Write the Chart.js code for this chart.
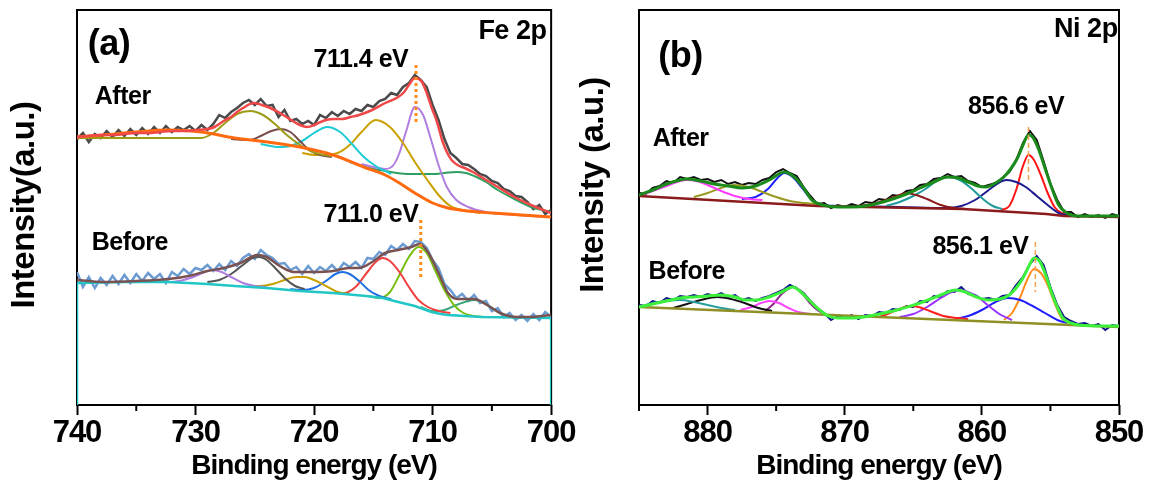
<!DOCTYPE html>
<html>
<head>
<meta charset="utf-8">
<script src="https://cdn.jsdelivr.net/npm/chart.js@4.4.0/dist/chart.umd.min.js"></script>
<style>
  html, body { margin: 0; padding: 0; background: #fff; }
  #wrap { position: relative; width: 1154px; height: 488px; }
  canvas { position: absolute; top: 0; }
</style>
</head>
<body>
<div id="wrap">
  <canvas id="fe" width="577" height="488" style="left:0"></canvas>
  <canvas id="ni" width="577" height="488" style="left:577px"></canvas>
</div>
<script>
// ---- Fe 2p (a): energies of the raw scans (eV) ----
const feE = [740,739.5,739,738.5,738,737.5,737,736.5,736,735.5,735,734.5,734,733.5,733,732.5,732,731.5,731,730.5,
  730,729.5,729,728.5,728,727.5,727,726.5,726,725.5,725,724.5,724,723.5,723,722.5,722,721.5,721,720.5,
  720,719.5,719,718.5,718,717.5,717,716.5,716,715.5,715,714.5,714,713.5,713,712.5,712,711.5,711,710.5,
  710,709.5,709,708.5,708,707.5,707,706.5,706,705.5,705,704.5,704,703.5,703,702.5,702,701.5,701,700.5,700];
const feAfterRaw = [266,272,263,271,267,274,268,275,269,276,270,277,271,278,272,279,273,278,275,279,
  274,280,275,281,290,287,293,297,302,305,300,306,299,300,288,295,284,286,281,284,
  280,290,287,293,289,294,291,296,294,300,298,304,306,312,310,318,322,330,325,318,
  300,285,266,252,247,241,240,236,231,229,224,222,216,214,209,208,203,196,200,191,195];
const feBeforeRaw = [133,118,128,117,127,120,129,121,130,122,131,124,132,126,131,122,133,129,136,131,
  137,135,140,134,141,135,144,139,147,151,146,155,150,147,141,142,135,138,131,139,
  132,138,134,140,134,142,138,143,137,147,146,153,150,159,155,161,156,164,163,157,
  145,137,121,115,107,111,104,110,102,104,94,97,88,92,85,90,84,91,85,93,88];

// fitted curves, [energy, intensity]
const feAfterFit = [[740,268],[739,269],[738,270],[737,270],[736,271],[735,272],[734,272],[733,273],[732,274],[731,274],
  [730,275],[729,276],[728.4,278],[727.5,285],[727,288],[726.5,293],[726,297],[725.1,302],[724.4,300],[723.7,297],
  [722.6,290],[721.8,284],[721.2,280],[720.6,278],[719.8,281],[719,285],[718.3,286],[717.6,286],[716.9,288],[716.2,290],
  [715.1,295],[714,302],[712.9,308],[712.4,313],[712,320],[711.5,327],[710.9,323],[710.5,312],[710.1,298],[709.6,282],
  [709.2,265],[708.8,253],[708.4,245],[707.9,240],[707.3,237],[706.6,233],[705.9,228],[704.5,218],[703.1,208],[701.7,200],[700,192]];
const feAfterBg = [[740,268],[737.8,270],[735,273],[732.3,275],[729.5,273],[726.7,267],[723.9,263],[721.2,258],[718.4,250],
  [715.6,237],[714,230],[712.8,222],[711.5,212],[710,202],[708.7,197],[707,194],[705,192],[702.5,190],[700,188]];
const feAfterOlive = [[740,267],[736,267],[732,267],[729.5,267],[728.5,272],[727.5,282],[726.5,291],[725.4,294],[724.3,290],
  [723.3,281],[722.3,270],[721.3,261],[720.3,254],[719.5,251],[718.5,249]];
const feAfterBrown = [[727,266],[725.5,265],[724.5,269],[723.6,274],[722.8,276],[722,273],[721.2,264],[720.4,255],[719.5,250],[718.5,248]];
const feAfterCyan = [[724.5,261],[723,258],[722,259],[721,264],[720,272],[718.9,278],[717.8,273],[716.8,261],[715.8,248],[714.8,239],[713.5,231]];
const feAfterGold = [[721,252],[720,250],[719,250],[718,252],[717,260],[716,273],[714.8,285],[713.6,278],[712.5,262],[711.5,243],
  [710.5,226],[709.5,210],[708.5,199],[707.5,195],[706,192]];
const feAfterPurple = [[716,241],[715,238],[714,236],[713.3,240],[712.8,252],[712.2,275],[711.5,298],[710.8,290],[710.2,268],
  [709.5,240],[708.8,218],[708,205],[707,198],[705.5,193],[703,190],[700,188]];
const feAfterGreen = [[717,243],[716,239],[715,236],[714,234],[713,232],[712,231],[710,231],[709,232],[708,233],[707.2,232],
  [706.3,228],[705.5,223],[704.5,215],[703.1,206],[701.7,198],[700,193]];

const feBeforeFit = [[740,125],[737.8,123],[735,124],[732.3,126],[730.6,129],[729,134],[727.6,137],[726.2,142],[724.8,150],[724,148],
  [722.9,139],[721.7,133],[720.1,133],[718.4,134],[717.1,137],[716.2,137],[715.1,143],[714,152],[712.9,155],[711.8,158],
  [711.1,161],[710.4,153],[709.5,132],[708.7,112],[707.9,106],[706.5,106],[705.4,100],[704.3,92],[702.9,88],[701.8,88],[700,90]];
const feBeforeBg = [[740,0],[740,122],[736,123],[732.3,123],[729,121],[726.7,119],[724,117],[721.2,114],[718.4,112],[715.6,109],
  [714.2,107],[712.9,103],[711.5,99],[710.1,93],[709.3,91],[708.7,90],[707.3,89],[705.9,88],[700,87],[700,0]];
const feBeforePurple = [[732,123],[731,125],[730,129],[729.2,133],[728.6,135],[727.8,133],[727,128],[726,122],[725,119],[724,118]];
const feBeforeGray = [[729,123],[728,125],[727,131],[726,140],[725.2,147],[724.6,148],[724,145],[723.2,136],[722.4,126],[721.6,119],[720.8,116]];
const feBeforeGold = [[725.5,119],[724.5,119],[723.5,121],[722.5,125],[721.5,128],[720.8,128],[720,125],[719,119],[718,113],[717,111]];
const feBeforeBlue = [[722,116],[721,115],[720,117],[719,124],[718.2,131],[717.6,133],[717,131],[716.2,124],[715.4,115],[714.5,109],[713.5,106]];
const feBeforeRed = [[718.5,112],[717.5,112],[716.5,118],[715.5,133],[714.8,143],[714.2,147],[713.6,144],[712.8,133],[712,118],
  [711.2,105],[710.4,98],[709.5,94],[708.5,92]];
const feBeforeLime = [[715.5,109],[714.5,107],[713.6,113],[712.8,130],[712,148],[711.2,158],[710.5,152],[709.8,135],[709,115],
  [708.2,100],[707.4,92],[706.5,89],[705.5,88]];
const feBeforeTeal = [[711,98],[710,94],[709,95],[708,100],[707,104],[706.5,105],[705.8,103],[705,97],[704.2,91],[703.4,88],[702.5,87]];

const feMarkAfter = [[711.4,340],[711.4,280]];
const feMarkBefore = [[711.0,185],[711.0,125]];

// ---- Ni 2p (b) ----
const niE = [885,884.5,884,883.5,883,882.5,882,881.5,881,880.5,880,879.5,879,878.5,878,877.5,877,876.5,876,875.5,
  875,874.5,874,873.5,873,872.5,872,871.5,871,870.5,870,869.5,869,868.5,868,867.5,867,866.5,866,865.5,
  865,864.5,864,863.5,863,862.5,862,861.5,861,860.5,860,859.5,859,858.5,858,857.5,857,856.5,856,855.5,
  855,854.5,854,853.5,853,852.5,852,851.5,851,850.5,850];
const niAfterRaw = [212,211,217,219,224,222,228,226,228,225,226,223,225,221,223,220,222,221,225,227,
  233,236,232,229,218,209,201,202,197,200,198,201,199,203,202,206,205,210,209,214,
  215,220,221,226,227,231,228,229,224,222,218,220,222,227,233,245,262,274,265,244,
  221,205,193,193,188,191,188,190,187,191,189];
const niBeforeRaw = [100,99,104,102,107,105,109,108,110,108,111,109,112,108,110,105,107,104,107,109,
  112,115,120,117,112,104,97,92,85,89,87,90,86,90,89,93,92,96,95,99,
  98,104,103,109,108,114,113,118,111,110,106,107,105,109,110,120,128,141,149,140,
  118,100,88,84,81,82,79,81,75,80,79];

const niAfterFit = [[885,210],[884,215],[883,221],[882,225],[881.5,226],[880.5,224],[879.5,221],[878.5,219],[877.5,217],[876.5,219],
  [875.5,225],[874.4,233],[873.6,227],[873,217],[872.4,205],[871.6,200],[870.5,198],[869.5,198],[868.5,199],[867.5,202],
  [866.5,206],[865.5,211],[864.5,217],[863.5,223],[862.5,228],[861.7,227],[861,223],[860.3,219],[859.7,218],[859,222],
  [858.4,228],[857.9,236],[857.4,247],[857,260],[856.6,270],[856.3,268],[855.9,257],[855.4,237],[854.9,217],[854.4,200],
  [853.8,192],[853,189],[850,189]];
const niAfterBg = [[885,209],[872,199],[861.4,196],[855.3,191],[854,189],[850,188]];
const niAfterMagenta = [[885,209],[884,214],[883,219],[882,224],[881.5,225],[880.8,224],[880,220],[879,214],[878,209],[877,206],[876,205]];
const niAfterOlive = [[881,208],[880,212],[879,217],[878.1,220],[877,218],[876,213],[875,208],[874,204],[873,202],[872,201]];
const niAfterBlue = [[877.5,206],[876.5,208],[875.6,216],[874.9,227],[874.4,232],[873.8,228],[873.1,217],[872.4,205],[871.6,200],[870.5,199]];
const niAfterMaroon = [[869,199],[868,201],[867,205],[866,210],[865.5,212],[864.8,210],[864,206],[863,200],[862,197],[861,196]];
const niAfterTeal = [[867,199],[866,203],[865,209],[864,217],[863.2,225],[862.4,228],[861.6,225],[860.8,217],[860,207],[859.2,199],[858.5,196]];
const niAfterNavy = [[870,199],[866,198],[862.6,197],[861.5,199],[860.5,205],[859.5,215],[858.8,222],[858.2,225],[857.5,223],
  [856.8,218],[856,209],[855.2,200],[854.4,192],[853.5,189]];
const niAfterRed = [[858.6,195],[858,199],[857.5,215],[857,239],[856.6,250],[856.2,245],[855.7,230],[855.2,212],[854.7,198],[854.2,192],[853.5,190]];

const niBeforeFit = [[885,98],[884,101],[883,104],[882,107],[881,108],[880,109],[879,110],[878,108],[877.2,105],[876.4,105],
  [875.5,108],[874.6,113],[873.8,118],[873.2,113],[872.6,105],[872,97],[871.2,89],[870.5,87],[869.5,87],[868.7,88],
  [867.5,91],[866.2,95],[865.2,99],[864.3,103],[863,110],[861.9,115],[861.2,113],[860.4,108],[859.5,105],[858.7,106],
  [858,110],[857.5,117],[857,127],[856.6,138],[856.2,147],[855.8,144],[855.4,132],[854.8,108],[854.4,95],[854.1,87],
  [853.5,82],[852.9,80],[851,79],[850,79]];
const niBeforeBg = [[885,98],[850,78]];
const niBeforeTeal = [[885,98],[884,102],[883,104],[882,105],[881,103],[880,100],[879,97],[878,95]];
const niBeforeBlack = [[882.5,97],[881.5,101],[880.5,105],[879.3,108],[878.3,106],[877.3,102],[876.3,97],[875.3,94]];
const niBeforeMagenta = [[877.6,95],[876.8,98],[876.1,102],[875.5,104],[874.8,102],[874.1,97],[873.4,93],[872.5,91]];
const niBeforePlum = [[875.8,94],[875.2,101],[874.6,111],[874,117],[873.7,118],[873.2,113],[872.6,103],[872,95],[871.4,91]];
const niBeforeRed = [[867.5,88],[866.7,92],[866,96],[865.3,99],[864.6,98],[863.8,94],[862.8,89],[861.8,87],[861,86]];
const niBeforeViolet = [[866,88],[865,91],[864,98],[863,107],[862.2,113],[861.6,115],[861,113],[860.2,107],[859.4,98],[858.6,90],[857.8,85]];
const niBeforeBlue = [[862,86],[861,89],[860,95],[859,103],[858.1,107],[857.2,105],[856.3,99],[855.4,92],[854.5,85],[853.8,82]];
const niBeforeOrange = [[858.4,85],[857.8,92],[857.2,108],[856.7,125],[856.2,136],[855.7,132],[855.2,120],[854.7,102],[854.2,87],[853.7,82]];

const niMarkAfter = [[856.6,278],[856.6,225]];
const niMarkBefore = [[856.1,163],[856.1,113]];

// ---- helpers ----
const FONT = "'Liberation Sans', Arial, sans-serif";
Chart.defaults.font.family = FONT;

const pairs = arr => arr.map(([x, y]) => ({ x, y }));
const zipped = (xs, ys) => xs.map((x, i) => ({ x, y: ys[i] }));

function fit(data, color, width, order) {
  return { data: pairs(data), borderColor: color, borderWidth: width, showLine: true, pointRadius: 0,
           cubicInterpolationMode: 'monotone', order: order };
}
function poly(data, color, width, order, dash) {
  return { data: data, borderColor: color, borderWidth: width, showLine: true, pointRadius: 0,
           tension: 0, order: order, borderDash: dash || [] };
}

// box round the plot and the small 5 eV ticks
const framePlugin = {
  id: 'frame',
  beforeDraw(chart) {
    chart.ctx.letterSpacing = '-1px';   // the figure's lettering is set tight
  },
  beforeDatasetsDraw(chart, args, opts) {
    const { ctx, chartArea: a, scales: { x } } = chart;
    ctx.save();
    ctx.strokeStyle = '#000';
    ctx.lineWidth = 2;
    ctx.strokeRect(a.left, a.top, a.right - a.left, a.bottom - a.top);
    ctx.beginPath();
    opts.minor.forEach(e => {
      const px = x.getPixelForValue(e);
      ctx.moveTo(px, a.bottom);
      ctx.lineTo(px, a.bottom + 6);
    });
    ctx.stroke();
    ctx.restore();
  }
};

const notesPlugin = {
  id: 'notes',
  afterDraw(chart, args, opts) {
    const { ctx, chartArea: a, scales: { x, y } } = chart;
    ctx.save();
    ctx.fillStyle = '#000';
    ctx.textBaseline = 'middle';
    ctx.letterSpacing = '-0.5px';
    opts.items.forEach(it => {
      ctx.font = 'bold ' + it.size + 'px ' + FONT;
      ctx.textAlign = it.align || 'left';
      ctx.fillText(it.text, x.getPixelForValue(it.e), y.getPixelForValue(it.v));
    });
    const t = opts.yTitle;
    ctx.translate(a.left - t.dx, a.top + t.dy);
    ctx.rotate(-Math.PI / 2);
    ctx.textAlign = 'center';
    ctx.font = 'bold ' + t.size + 'px ' + FONT;
    ctx.fillText(t.text, 0, 0);
    ctx.restore();
  }
};

function makeChart(id, cfg) {
  return new Chart(document.getElementById(id), {
    type: 'scatter',
    data: { datasets: cfg.datasets },
    options: {
      responsive: false,
      animation: false,
      layout: { padding: { top: 10, right: cfg.padRight, bottom: 0, left: 0 } },
      plugins: {
        legend: { display: false },
        tooltip: { enabled: false },
        frame: { minor: cfg.minor },
        notes: { items: cfg.notes, yTitle: cfg.yTitle }
      },
      scales: {
        x: {
          type: 'linear', reverse: true, min: cfg.min, max: cfg.max,
          afterFit: s => { s.height = 83; },
          ticks: { stepSize: 10, includeBounds: false, padding: 0, maxRotation: 0, color: '#000',
                   font: { size: 31, weight: 'bold' } },
          grid: { drawOnChartArea: false, tickLength: 10, tickWidth: 2, tickColor: '#000' },
          border: { display: false },
          title: { display: true, text: 'Binding energy (eV)', color: '#000',
                   font: { size: 28, weight: 'bold' }, padding: { top: 0, bottom: 5 } }
        },
        y: {
          min: 0, max: 395,
          afterFit: s => { s.width = cfg.yWidth; },
          ticks: { display: false },
          grid: { display: false },
          border: { display: false }
        }
      }
    },
    plugins: [framePlugin, notesPlugin]
  });
}

makeChart('fe', {
  min: 700, max: 740, padRight: 19, yWidth: 77,
  minor: [735, 725, 715, 705],
  yTitle: { text: 'Intensity(a.u.)', size: 33, dx: 52, dy: 195 },
  notes: [
    { text: '(a)', e: 739.1, v: 360, size: 36 },
    { text: 'Fe 2p', e: 700.4, v: 373, size: 27, align: 'right' },
    { text: 'After', e: 738.5, v: 308, size: 25 },
    { text: '711.4 eV', e: 716.05, v: 345, size: 25, align: 'center' },
    { text: 'Before', e: 738.75, v: 162, size: 25 },
    { text: '711.0 eV', e: 715.2, v: 190, size: 25, align: 'center' }
  ],
  datasets: [
    poly(pairs(feMarkAfter), '#ff8a1e', 3, -1, [3, 3]),
    poly(pairs(feMarkBefore), '#ff8a1e', 3, -1, [3, 3]),
    fit(feAfterFit, '#f04848', 2.5, 0),
    fit(feBeforeFit, '#7b5252', 2.5, 0),
    fit(feAfterBg, '#ff6a10', 3, 1),
    fit(feAfterOlive, '#9d9a14', 2, 1),
    fit(feAfterBrown, '#7a4e4e', 2, 1),
    fit(feAfterCyan, '#1ccbd4', 2, 1),
    fit(feAfterGold, '#c9a000', 2, 1),
    fit(feAfterPurple, '#b07ee0', 2, 1),
    fit(feAfterGreen, '#2f9e62', 2, 1),
    poly(pairs(feBeforeBg), '#22c6c6', 2.5, 1),
    fit(feBeforePurple, '#b07ee0', 2, 1),
    fit(feBeforeGray, '#555555', 2, 1),
    fit(feBeforeGold, '#c9a000', 2, 1),
    fit(feBeforeBlue, '#1f6fe0', 2, 1),
    fit(feBeforeRed, '#f04040', 2, 1),
    fit(feBeforeLime, '#76bf10', 2, 1),
    fit(feBeforeTeal, '#3aa57b', 2, 1),
    poly(zipped(feE, feAfterRaw), '#4a4a4a', 2.5, 3),
    poly(zipped(feE, feBeforeRaw), '#6b9bd1', 2.5, 3)
  ]
});

makeChart('ni', {
  min: 850, max: 885, padRight: 35, yWidth: 62,
  minor: [885, 875, 865, 855],
  yTitle: { text: 'Intensity (a.u.)', size: 33, dx: 45, dy: 175 },
  notes: [
    { text: '(b)', e: 883.6, v: 348, size: 36 },
    { text: 'Ni 2p', e: 850.1, v: 375, size: 27, align: 'right' },
    { text: 'After', e: 884.0, v: 266, size: 25 },
    { text: '856.6 eV', e: 857.5, v: 298, size: 25, align: 'center' },
    { text: 'Before', e: 884.3, v: 133, size: 25 },
    { text: '856.1 eV', e: 860.1, v: 158, size: 25, align: 'center' }
  ],
  datasets: [
    poly(pairs(niMarkAfter), '#f5a050', 1.5, -1, [5, 3]),
    poly(pairs(niMarkBefore), '#f5a050', 1.5, -1, [5, 3]),
    fit(niAfterFit, '#1a8a1a', 3, 0),
    fit(niBeforeFit, '#3cf03c', 3, 0),
    poly(pairs(niAfterBg), '#8b1a1a', 2.5, 1),
    fit(niAfterMagenta, '#ff3cff', 2, 1),
    fit(niAfterOlive, '#999922', 2, 1),
    fit(niAfterBlue, '#2020ff', 2, 1),
    fit(niAfterMaroon, '#8b1a1a', 2, 1),
    fit(niAfterTeal, '#209a9a', 2, 1),
    fit(niAfterNavy, '#1b1b8f', 2, 1),
    fit(niAfterRed, '#ff1515', 2, 1),
    poly(pairs(niBeforeBg), '#8f8f25', 2.5, 1),
    fit(niBeforeTeal, '#2a9d9d', 2, 1),
    fit(niBeforeBlack, '#111111', 2, 1),
    fit(niBeforeMagenta, '#ff44ff', 2, 1),
    fit(niBeforePlum, '#8e2a8e', 2, 1),
    fit(niBeforeRed, '#ff2020', 2, 1),
    fit(niBeforeViolet, '#9933ff', 2, 1),
    fit(niBeforeBlue, '#1e1eff', 2, 1),
    fit(niBeforeOrange, '#ff8c1a', 2, 1),
    poly(zipped(niE, niAfterRaw), '#111111', 2, 3),
    poly(zipped(niE, niBeforeRaw), '#10108a', 2, 3)
  ]
});
</script>
</body>
</html>
